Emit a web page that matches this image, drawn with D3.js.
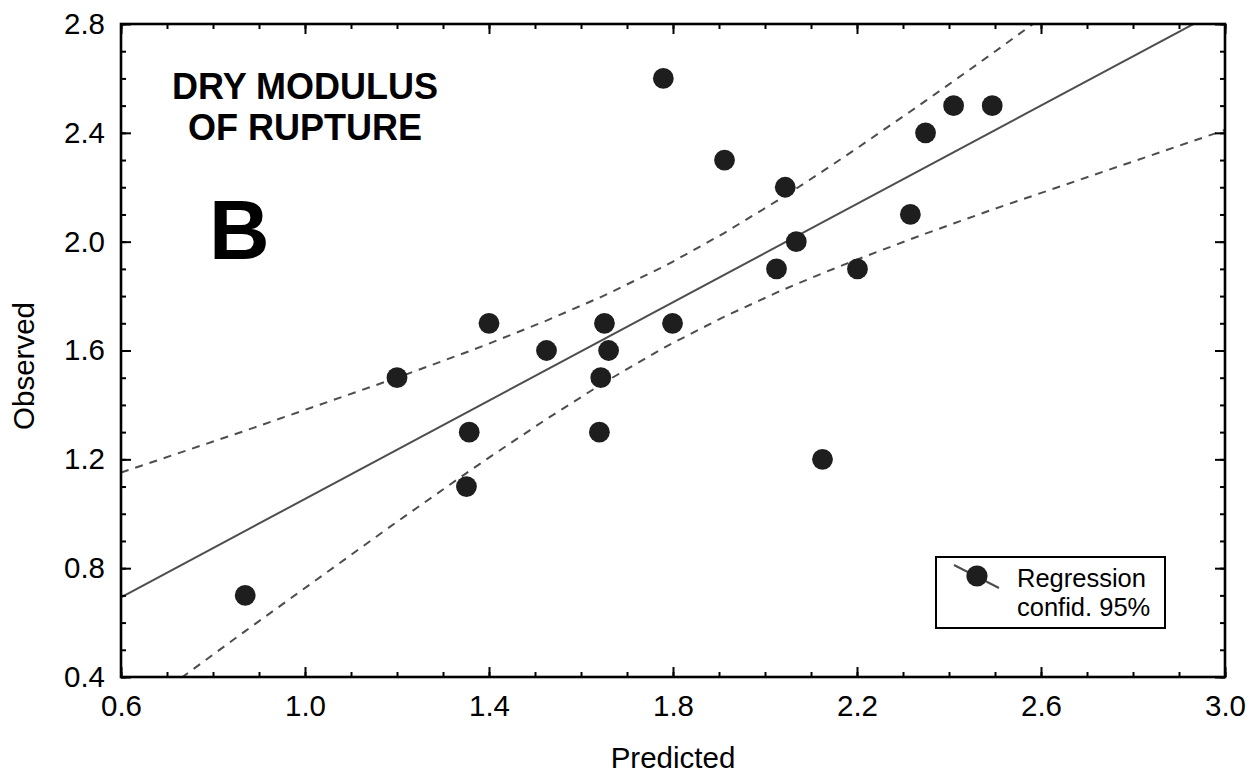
<!DOCTYPE html>
<html>
<head>
<meta charset="utf-8">
<script src="https://cdn.jsdelivr.net/npm/d3@7"></script>
<style>
  html, body { margin: 0; padding: 0; background: #fff; }
  svg { display: block; font-family: "Liberation Sans", Arial, sans-serif; }
</style>
</head>
<body>
<svg id="chart" width="1257" height="774"></svg>
<script>
// values
const predicted = [ 0.87, 1.20, 1.40, 1.357, 1.351, 1.525, 1.643, 1.640, 1.651, 1.660, 1.779,
  1.799, 1.912, 2.044, 2.025, 2.068, 2.125, 2.201, 2.316, 2.349, 2.410, 2.494 ];
const observed = [ 0.7, 1.5, 1.7, 1.3, 1.1, 1.6, 1.5, 1.3, 1.7, 1.6, 2.6,
  1.7, 2.3, 2.2, 1.9, 2.0, 1.2, 1.9, 2.1, 2.4, 2.5, 2.5 ];
const xTicks = [ 0.6, 1.0, 1.4, 1.8, 2.2, 2.6, 3.0 ];
const yTicks = [ 0.4, 0.8, 1.2, 1.6, 2.0, 2.4, 2.8 ];
const titleLines = [ "DRY MODULUS", "OF RUPTURE" ];
const legendLines = [ "Regression", "confid. 95%" ];

class FitPlot {
  constructor(option) {
    Object.assign(this, {
      el : "#chart",
      margin : { top : 24, left : 121, right : 32, bottom : 97 },
      width : 1257,
      height : 774,
      tValue : 2.086, // student t, df = 20, 95%
      pointColor : "#1e1e1e",
      lineColor : "#4d4d4d"
    }, option);
    this.init();
  }

  init() {
    this.svg = d3.select(this.el);
    this.w = this.width - this.margin.left - this.margin.right;
    this.h = this.height - this.margin.top - this.margin.bottom;
    this.group = this.svg.append("g")
      .attr("transform", `translate(${this.margin.left},${this.margin.top})`);
    this.xScale = d3.scaleLinear().domain([ 0.6, 3.0 ]).range([ 0, this.w ]);
    this.yScale = d3.scaleLinear().domain([ 0.4, 2.8 ]).range([ this.h, 0 ]);
    this.fit();
    this.addFit();
    this.addPoints();
    this.addAxes();
    this.addTexts();
    this.addLegend();
  }

  fit() {
    const n = predicted.length;
    const xm = d3.mean(predicted), ym = d3.mean(observed);
    let sxx = 0, sxy = 0;
    predicted.forEach((x, i) => {
      sxx += (x - xm) * (x - xm);
      sxy += (x - xm) * (observed[ i ] - ym);
    });
    const b = sxy / sxx, a = ym - b * xm;
    const sse = d3.sum(predicted, (x, i) => Math.pow(observed[ i ] - a - b * x, 2));
    const s = Math.sqrt(sse / (n - 2));
    this.line = x => a + b * x;
    this.half = x => this.tValue * s * Math.sqrt(1 / n + (x - xm) * (x - xm) / sxx);
  }

  addFit() {
    this.svg.append("defs").append("clipPath").attr("id", "plotClip")
      .append("rect").attr("width", this.w).attr("height", this.h);
    const g = this.group.append("g").attr("clip-path", "url(#plotClip)");
    const dom = this.xScale.domain();
    const xs = [ dom[ 0 ], ...predicted.slice().sort(d3.ascending), dom[ 1 ] ];
    const path = d3.line().x(d => this.xScale(d[ 0 ])).y(d => this.yScale(d[ 1 ]));

    g.append("path")
      .attr("d", path(dom.map(x => [ x, this.line(x) ])))
      .attr("fill", "none")
      .attr("stroke", this.lineColor)
      .attr("stroke-width", 2);

    [ 1, -1 ].forEach(k => {
      g.append("path")
        .attr("d", path(xs.map(x => [ x, this.line(x) + k * this.half(x) ])))
        .attr("fill", "none")
        .attr("stroke", this.lineColor)
        .attr("stroke-width", 2)
        .attr("stroke-dasharray", "8,7");
    });
  }

  addPoints() {
    this.group.append("g").selectAll("circle")
      .data(predicted)
      .enter()
      .append("circle")
      .attr("cx", d => this.xScale(d))
      .attr("cy", (d, i) => this.yScale(observed[ i ]))
      .attr("r", 10.4)
      .attr("fill", this.pointColor);
  }

  addAxes() {
    const minorX = d3.range(6, 31).map(i => i / 10);
    const minorY = d3.range(4, 29).map(i => i / 10);
    const fmt = d3.format(".1f");
    const style = g => {
      g.select(".domain").remove();
      g.selectAll("line").attr("stroke", "#000").attr("stroke-width", 2);
      g.selectAll("text").attr("font-size", "29.5px").attr("fill", "#000")
        .attr("font-family", "Liberation Sans, Arial, sans-serif");
    };
    const axes = [
      [ d3.axisBottom(this.xScale), `translate(0,${this.h})`, xTicks, minorX, true ],
      [ d3.axisTop(this.xScale), "translate(0,0)", xTicks, minorX, false ],
      [ d3.axisLeft(this.yScale), "translate(0,0)", yTicks, minorY, true ],
      [ d3.axisRight(this.yScale), `translate(${this.w},0)`, yTicks, minorY, false ]
    ];
    axes.forEach(([ axis, tr, major, minor, labels ]) => {
      this.group.append("g").attr("transform", tr)
        .call(axis.tickValues(minor).tickFormat("").tickSizeInner(-5).tickSizeOuter(0))
        .call(style);
      const isX = axis === axes[ 0 ][ 0 ] || axis === axes[ 1 ][ 0 ];
      this.group.append("g").attr("transform", tr)
        .call(axis.tickValues(major).tickFormat(labels ? fmt : "").tickSizeInner(-10).tickSizeOuter(0)
          .tickPadding(isX ? 18 : 16))
        .call(style);
    });

    this.group.append("rect")
      .attr("width", this.w)
      .attr("height", this.h)
      .attr("fill", "none")
      .attr("stroke", "#000")
      .attr("stroke-width", 2.6);

    this.svg.append("text")
      .attr("x", this.margin.left + this.w / 2)
      .attr("y", 768)
      .attr("text-anchor", "middle")
      .attr("font-size", "29.5px")
      .text("Predicted");

    this.svg.append("text")
      .attr("transform", "translate(34,366) rotate(-90)")
      .attr("text-anchor", "middle")
      .attr("font-size", "29.5px")
      .text("Observed");
  }

  addTexts() {
    this.svg.append("text")
      .attr("x", 305)
      .attr("y", 99)
      .attr("text-anchor", "middle")
      .attr("font-size", "36px")
      .attr("font-weight", "bold")
      .selectAll("tspan")
      .data(titleLines)
      .enter()
      .append("tspan")
      .attr("x", 305)
      .attr("dy", (d, i) => i ? 41 : 0)
      .text(d => d);

    this.svg.append("text")
      .attr("x", 209)
      .attr("y", 259)
      .attr("font-size", "84px")
      .attr("font-weight", "bold")
      .text("B");
  }

  addLegend() {
    const lg = this.svg.append("g").attr("transform", "translate(936,557)");
    lg.append("rect")
      .attr("width", 229)
      .attr("height", 71)
      .attr("fill", "#fff")
      .attr("stroke", "#000")
      .attr("stroke-width", 2);
    lg.append("line")
      .attr("x1", 18).attr("y1", 8)
      .attr("x2", 63).attr("y2", 31)
      .attr("stroke", this.lineColor)
      .attr("stroke-width", 2);
    lg.append("circle")
      .attr("cx", 41).attr("cy", 19)
      .attr("r", 10.6)
      .attr("fill", this.pointColor);
    lg.selectAll(".lgText")
      .data(legendLines)
      .enter()
      .append("text")
      .attr("class", "lgText")
      .attr("x", 81)
      .attr("y", (d, i) => 30 + i * 29)
      .attr("font-size", "25.5px")
      .text(d => d);
  }
}

new FitPlot({});
</script>
</body>
</html>
